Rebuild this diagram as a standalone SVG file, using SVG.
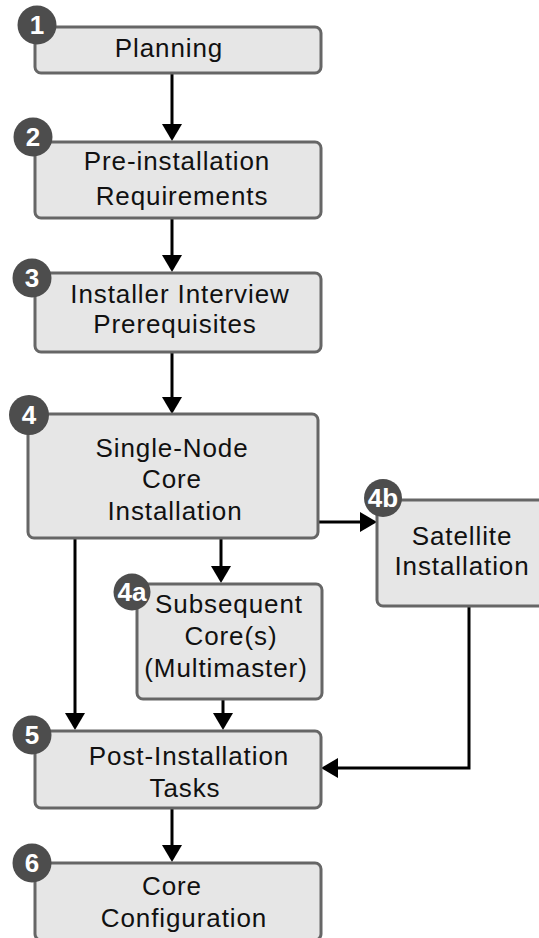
<svg xmlns="http://www.w3.org/2000/svg" width="539" height="938" viewBox="0 0 539 938">
<defs>
<style>
.box{fill:#e6e6e6;stroke:#666;stroke-width:3}
.lbl{font-family:"Liberation Sans",Arial,sans-serif;font-size:26px;letter-spacing:0.9px;fill:#111;text-anchor:middle}
.bdg{fill:#4d4d4d}
.num{font-family:"Liberation Sans",Arial,sans-serif;font-size:26px;font-weight:bold;fill:#fff;text-anchor:middle}
.con{stroke:#000;stroke-width:3;fill:none}
</style>
<marker id="ah" viewBox="0 0 17 20" markerWidth="17" markerHeight="20" refX="7" refY="10" orient="auto" markerUnits="userSpaceOnUse">
<path d="M0,0 L17,10 L0,20 z" fill="#000"/>
</marker>
</defs>
<rect width="539" height="938" fill="#fff"/>
<g id="connectors">
<line class="con" x1="172" y1="73" x2="172" y2="131" marker-end="url(#ah)"/>
<line class="con" x1="172" y1="218" x2="172" y2="262" marker-end="url(#ah)"/>
<line class="con" x1="172" y1="352" x2="172" y2="404" marker-end="url(#ah)"/>
<line class="con" x1="318" y1="522" x2="367" y2="522" marker-end="url(#ah)"/>
<line class="con" x1="221" y1="538" x2="221" y2="573" marker-end="url(#ah)"/>
<line class="con" x1="75" y1="538" x2="75" y2="720" marker-end="url(#ah)"/>
<line class="con" x1="223" y1="699" x2="223" y2="720" marker-end="url(#ah)"/>
<polyline class="con" points="469,606 469,768 331,768" marker-end="url(#ah)"/>
<line class="con" x1="172" y1="808" x2="172" y2="852" marker-end="url(#ah)"/>
</g>
<g id="n1">
<rect class="box" x="35" y="27" width="286" height="46" rx="6"/>
<circle class="bdg" cx="37" cy="25" r="19.5"/>
<text class="num" x="37" y="34">1</text>
<text class="lbl" x="169" y="57">Planning</text>
</g>
<g id="n2">
<rect class="box" x="35" y="142" width="286" height="76" rx="6"/>
<circle class="bdg" cx="33" cy="137" r="19.5"/>
<text class="num" x="33" y="146">2</text>
<text class="lbl" x="177" y="170">Pre-installation</text>
<text class="lbl" x="182" y="205">Requirements</text>
</g>
<g id="n3">
<rect class="box" x="35" y="273" width="286" height="79" rx="6"/>
<circle class="bdg" cx="32" cy="278" r="19.5"/>
<text class="num" x="32" y="287">3</text>
<text class="lbl" x="180" y="303">Installer Interview</text>
<text class="lbl" x="175" y="333">Prerequisites</text>
</g>
<g id="n4">
<rect class="box" x="28" y="414" width="290" height="124" rx="6"/>
<circle class="bdg" cx="29" cy="415" r="20"/>
<text class="num" x="29" y="424">4</text>
<text class="lbl" x="172" y="457">Single-Node</text>
<text class="lbl" x="172" y="488">Core</text>
<text class="lbl" x="175" y="520">Installation</text>
</g>
<g id="n4a">
<rect class="box" x="137" y="584" width="185" height="115" rx="6"/>
<circle class="bdg" cx="132" cy="592" r="18.5"/>
<text class="num" x="132" y="601">4a</text>
<text class="lbl" x="229" y="613">Subsequent</text>
<text class="lbl" x="231" y="645">Core(s)</text>
<text class="lbl" x="226" y="677">(Multimaster)</text>
</g>
<g id="n4b">
<rect class="box" x="377" y="500" width="175" height="106" rx="6"/>
<circle class="bdg" cx="383" cy="498" r="19"/>
<text class="num" x="383" y="507">4b</text>
<text class="lbl" x="462" y="545">Satellite</text>
<text class="lbl" x="462" y="575">Installation</text>
</g>
<g id="n5">
<rect class="box" x="35" y="731" width="286" height="77" rx="6"/>
<circle class="bdg" cx="32" cy="735" r="19.5"/>
<text class="num" x="32" y="744">5</text>
<text class="lbl" x="189" y="765">Post-Installation</text>
<text class="lbl" x="185" y="797">Tasks</text>
</g>
<g id="n6">
<rect class="box" x="35" y="863" width="286" height="77" rx="6"/>
<circle class="bdg" cx="32" cy="863" r="19.5"/>
<text class="num" x="32" y="872">6</text>
<text class="lbl" x="172" y="895">Core</text>
<text class="lbl" x="184" y="927">Configuration</text>
</g>
</svg>
